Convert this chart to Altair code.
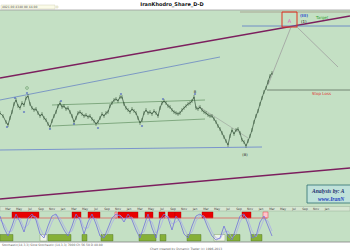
import altair as alt
import pandas as pd

# ---- data (chart units: x = bar position, y = level, larger = lower) ----
price_x = [0,3,6,8,10,12,14,16,18,20,22,24,26,28,30,32,34,36,38,40,42,44,46,48,50,52,54,56,58,60,
           62,64,66,68,70,72,74,76,78,80,82,84,86,88,90,92,94,96,98,100,102,104,106,108,110,112,114,
           116,118,120,122,124,126,128,130,132,134,136,138,140,142,144,146,148,150,152,154,156,158,160,
           162,164,166,168,170,172,174,176,178,180,182,184,186,188,190,192,194,196,198,200,202,204,206,
           208,210,212,214,216,218,220,222,224,226,228,230,232,234,236,238,240,242,244,246,248,250,252,
           254,256,258,260,262,264,266,268,270,272]
price_y = [113,116,122,125,118,112,104,100,106,108,103,105,98,96,104,108,110,109,113,116,114,118,120,
           124,127,121,116,112,106,103,107,106,109,108,112,116,122,118,113,112,114,116,115,117,116,119,
           121,124,122,118,114,116,113,112,106,103,100,99,101,97,97,104,108,110,112,109,111,113,118,123,
           120,113,110,113,112,114,111,113,116,108,103,101,103,106,107,110,112,113,114,113,110,108,106,
           104,103,101,97,108,109,107,110,112,113,115,116,116,119,122,126,129,133,137,141,145,136,130,
           134,130,129,133,140,142,146,141,136,130,122,116,111,104,98,92,88,82,76,73]

osc_x = list(range(0, 273, 4))
osc_k = [216,228,236,226,214,222,232,218,214,220,234,238,226,216,214,222,230,236,226,214,220,234,222,
         214,224,236,238,228,218,214,216,222,214,220,230,238,226,214,228,238,220,214,218,230,216,222,
         234,238,226,216,214,218,228,236,240,238,226,236,240,228,216,214,224,238,236,222,216,226,236]
osc_d = [220,224,232,231,220,218,228,225,216,217,228,236,232,222,215,218,226,233,231,220,217,228,228,
         218,219,230,237,233,223,216,215,219,218,217,225,234,232,220,222,233,228,217,216,224,222,219,
         228,236,232,221,215,216,223,232,238,239,232,231,238,234,222,215,219,231,237,229,219,221,231]

red_x1 = [12,72,88,118,145,159,168,175,202,242]
red_x2 = [39,81,100,138,153,165,175,181,213,251]
pink_x1 = [115,263]
pink_x2 = [117,268]
green_x1 = [0,48,82,101,139,160,187,227,251]
green_x2 = [13,71,87,113,156,166,201,240,262]
light_x1 = [40,214]
light_x2 = [47,225]

months = ["Mar","May","Jul","Sep","Nov","Jan","Mar","May","Jul","Sep","Nov","Jan","Mar","May","Jul",
          "Sep","Nov","Jan","Mar","May","Jul","Sep","Nov","Jan","Mar","May","Jul","Sep","Nov","Jan"]
month_x = [8 + 11 * i for i in range(len(months))]

trend = pd.DataFrame([
    # x1, y1, x2, y2, color, width
    (0, 78, 350, 16, "#7c1f5e", 1.5),
    (0, 199, 350, 168, "#7c1f5e", 1.5),
    (0, 100, 220, 57, "#6a86c4", 0.8),
    (0, 150, 262, 147, "#7a94cc", 1.0),
    (242, 26, 350, 26, "#5a78c8", 0.8),
    (240, 12, 350, 12, "#a8a090", 0.9),
    (52, 105, 205, 100, "#6f9a6f", 0.8),
    (52, 126, 205, 119, "#6f9a6f", 0.8),
    (198, 106, 248, 138, "#9aa09a", 0.6),
    (291, 27, 268, 85, "#a0a0a0", 0.8),
    (297, 27, 338, 67, "#a0a0a0", 0.8),
    (267, 90, 350, 90, "#607060", 0.8),
    (0, 218, 267, 218, "#e05050", 0.7),
    (0, 10, 350, 10, "#a0a0a0", 0.8),
    (0, 242, 350, 242, "#808080", 0.8),
], columns=["x1", "y1", "x2", "y2", "c", "w"])

X = alt.Scale(domain=[0, 350], nice=False, zero=False)
Y = alt.Scale(domain=[0, 250], nice=False, zero=False, reverse=True)


def rects(df, fill, stroke=None, sw=0.5):
    kw = dict(fill=fill)
    if stroke:
        kw.update(stroke=stroke, strokeWidth=sw)
    return alt.Chart(df).mark_rect(**kw).encode(
        x=alt.X("x1:Q", scale=X, axis=None), x2="x2:Q",
        y=alt.Y("y1:Q", scale=Y, axis=None), y2="y2:Q")


def texts(df, **kw):
    kw.setdefault("font", "DejaVu Sans")
    return alt.Chart(df).mark_text(**kw).encode(
        x=alt.X("x:Q", scale=X, axis=None), y=alt.Y("y:Q", scale=Y, axis=None), text="t:N")


bg = rects(pd.DataFrame({"x1": [0], "x2": [350], "y1": [10], "y2": [242]}), "#c4e0c4")
strip = rects(pd.DataFrame({"x1": [0], "x2": [350], "y1": [206.5], "y2": [211]}), "#d6e6d2", "#9ab09a", 0.5)
infobox = rects(pd.DataFrame({"x1": [1, 56], "x2": [55, 58], "y1": [5, 6], "y2": [9, 8]}), "#fbfbe8", "#c8c8a8", 0.4)

redb = rects(pd.DataFrame({"x1": red_x1, "x2": red_x2, "y1": 212, "y2": 218}), "#e80000", "#b00000", 0.4)
pinkb = rects(pd.DataFrame({"x1": pink_x1, "x2": pink_x2, "y1": 212, "y2": 218}), "#ffc4cc", "#e04040", 0.5)
greenb = rects(pd.DataFrame({"x1": green_x1, "x2": green_x2, "y1": 234.5, "y2": 241}), "#86b038", "#4a6a20", 0.4)
lightb = rects(pd.DataFrame({"x1": light_x1, "x2": light_x2, "y1": 234.5, "y2": 241}), "#eef4e6", "#6a8a4a", 0.4)

lines = alt.Chart(trend).mark_rule().encode(
    x=alt.X("x1:Q", scale=X, axis=None), x2="x2:Q",
    y=alt.Y("y1:Q", scale=Y, axis=None), y2="y2:Q",
    color=alt.Color("c:N", scale=None), strokeWidth=alt.StrokeWidth("w:Q", scale=None))

pdf = pd.DataFrame({"x": price_x, "y": price_y})
price = alt.Chart(pdf).mark_line(color="#33503a", strokeWidth=0.7).encode(
    x=alt.X("x:Q", scale=X, axis=None), y=alt.Y("y:Q", scale=Y, axis=None))
bars = alt.Chart(pdf).transform_calculate(hi="datum.y - 1.8", lo="datum.y + 1.8").mark_rule(
    color="#2c4a2c", strokeWidth=0.6).encode(
    x=alt.X("x:Q", scale=X, axis=None), y=alt.Y("hi:Q", scale=Y, axis=None), y2="lo:Q")

odf = pd.DataFrame({"x": osc_x, "k": osc_k, "d": osc_d})
osck = alt.Chart(odf).mark_line(color="#7272dc", strokeWidth=0.8).encode(
    x=alt.X("x:Q", scale=X, axis=None), y=alt.Y("k:Q", scale=Y, axis=None))
oscd = alt.Chart(odf).mark_line(color="#a8a8ee", strokeWidth=0.7).encode(
    x=alt.X("x:Q", scale=X, axis=None), y=alt.Y("d:Q", scale=Y, axis=None))

dots = alt.Chart(pd.DataFrame({
    "x": [7, 15, 24, 27, 50, 61, 74, 98, 121, 142, 163, 195],
    "y": [127, 98, 112, 93, 129, 101, 124, 128, 94, 126, 99, 94]})).mark_point(
    shape="circle", size=5, color="#4a60c0", filled=True).encode(
    x=alt.X("x:Q", scale=X, axis=None), y=alt.Y("y:Q", scale=Y, axis=None))
circ = alt.Chart(pd.DataFrame({"x": [27], "y": [88]})).mark_point(
    shape="circle", size=8, color="#3a7a3a", strokeWidth=0.6).encode(
    x=alt.X("x:Q", scale=X, axis=None), y=alt.Y("y:Q", scale=Y, axis=None))

box = rects(pd.DataFrame({"x1": [282], "x2": [297], "y1": [12], "y2": [27]}), "transparent", "#e03020", 1.0)
abox = rects(pd.DataFrame({"x1": [307], "x2": [352], "y1": [185], "y2": [203]}), "#bfe2da", "#2f6f6f", 0.8)

title = texts(pd.DataFrame({"x": [172], "y": [3.8], "t": ["IranKhodro_Share_D-D"]}),
              fontSize=5, fontWeight="bold", color="#101010")
info = texts(pd.DataFrame({"x": [2], "y": [7], "t": ["4021.00   4340.00   44.00"]}),
             fontSize=3, color="#505050", align="left")
mon = texts(pd.DataFrame({"x": month_x, "y": [208.8] * len(month_x), "t": months}),
            fontSize=3, color="#404040")
lab_a = texts(pd.DataFrame({"x": [289.5], "y": [21], "t": ["A"]}), fontSize=5, color="#e060c0")
lab_iii = texts(pd.DataFrame({"x": [300], "y": [16], "t": ["(III)"]}), fontSize=4, color="#3050d0", fontWeight="bold", align="left")
lab_1 = texts(pd.DataFrame({"x": [301], "y": [22], "t": ["(1)"]}), fontSize=4, color="#101010", align="left")
lab_t = texts(pd.DataFrame({"x": [316], "y": [18], "t": ["Target"]}), fontSize=4, color="#30a030", align="left")
lab_sl = texts(pd.DataFrame({"x": [312], "y": [93.5], "t": ["Stop Loss"]}), fontSize=4, color="#e03030", align="left")
lab_b = texts(pd.DataFrame({"x": [245, 195], "y": [154.5, 92], "t": ["(B)", "B"]}), fontSize=3.6, color="#202020")
an1 = texts(pd.DataFrame({"x": [312], "y": [190.5], "t": ["Analysis by: A"]}),
            fontSize=5.5, color="#1a2a6a", fontStyle="italic", fontWeight="bold", align="left", font="Liberation Serif")
an2 = texts(pd.DataFrame({"x": [318], "y": [198.5], "t": ["www.IranN"]}),
            fontSize=5.5, color="#2040c0", fontStyle="italic", fontWeight="bold", align="left", font="Liberation Serif")
foot1 = texts(pd.DataFrame({"x": [2], "y": [244.5], "t": ["Stochastic(14,3,3)  Slow  Stochastic (14,3,3)  7000  Ch  56.50   D  40.80"]}),
              fontSize=3, color="#606060", align="left")
foot2 = texts(pd.DataFrame({"x": [150], "y": [248.3], "t": ["Chart created by Dynamic Trader   (c) 1996-2013"]}),
              fontSize=3, color="#606060", align="left")

chart = alt.layer(
    bg, strip, infobox, redb, pinkb, greenb, lightb, lines, oscd, osck, bars, price,
    dots, circ, box, abox, title, info, mon, lab_a, lab_iii, lab_1, lab_t, lab_sl, lab_b,
    an1, an2, foot1, foot2
).properties(width=350, height=250, padding=0, autosize=alt.AutoSizeParams(type="none"),
             background="white").configure_view(stroke=None)

chart.save("out.html", embed_options={"renderer": "svg", "actions": False})
